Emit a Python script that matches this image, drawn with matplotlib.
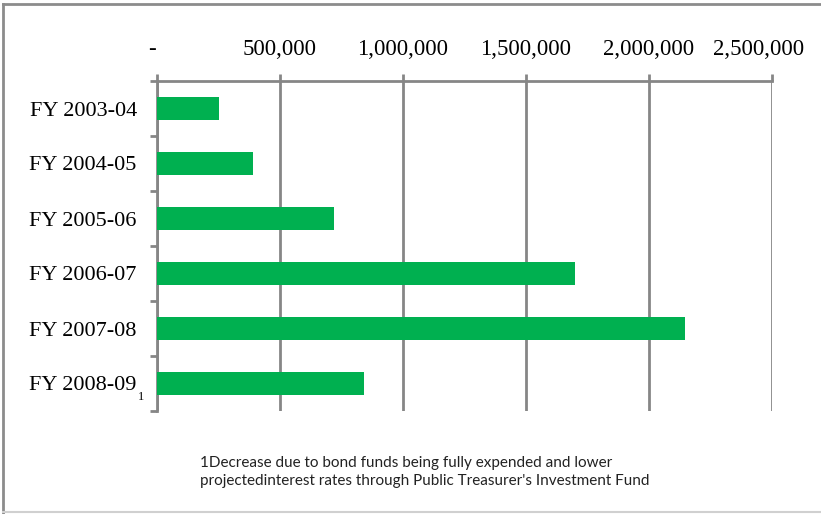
import numpy as np
import matplotlib
matplotlib.use("Agg")
import matplotlib.pyplot as plt
from matplotlib.lines import Line2D
from matplotlib.ticker import FuncFormatter, FixedLocator
from matplotlib.transforms import ScaledTranslation

years = ["FY 2003-04", "FY 2004-05", "FY 2005-06", "FY 2006-07", "FY 2007-08", "FY 2008-09"]
amounts = [252000, 390000, 720000, 1699000, 2146000, 841000]
x_ticks = [0, 500000, 1000000, 1500000, 2000000, 2500000]
note = ("1Decrease due to bond funds being fully expended and lower\n"
        "projectedinterest rates through Public Treasurer's Investment Fund")

GREEN = "#00B050"
GREY = "#868686"

W, H = 821, 514
fig = plt.figure(figsize=(W / 100, H / 100), dpi=100)
ax = fig.add_axes([157 / W, 1 - 411 / H, (772 - 157) / W, (411 - 81) / H])

y = np.arange(len(years))
ax.barh(y, amounts, height=0.42, color=GREEN, zorder=3)
ax.set_ylim(len(years) - 0.5, -0.5)
ax.set_xlim(0, 2500000)

# value axis on top, vertical gridlines
ax.xaxis.tick_top()
ax.xaxis.set_major_locator(FixedLocator(x_ticks))
ax.xaxis.set_major_formatter(FuncFormatter(lambda v, p: "-" if v == 0 else f"{int(v):,}"))
ax.tick_params(axis="x", which="major", length=5, width=2, color=GREY, pad=10,
               labelsize=16.5, labelfontfamily="Liberation Serif")
ax.grid(axis="x", color=GREY, lw=2, zorder=1)

# category labels at centres, boundary ticks as minor ticks
ax.set_yticks(y)
ax.set_yticklabels(years)
ax.set_yticks(np.arange(len(years) + 1) - 0.5, minor=True)
ax.tick_params(axis="y", which="major", length=0, pad=14.5,
               labelsize=16, labelfontfamily="Liberation Serif")
ax.tick_params(axis="y", which="minor", length=5, width=2, color=GREY)

for s in ["right", "bottom"]:
    ax.spines[s].set_visible(False)
for s in ["top", "left"]:
    ax.spines[s].set_color(GREY)
    ax.spines[s].set_linewidth(2)

# keep the end labels inside the frame
fig.canvas.draw()
labels = ax.get_xticklabels(which="major")
labels[0].set_transform(labels[0].get_transform() + ScaledTranslation(-5 / 100, 0, fig.dpi_scale_trans))
labels[-1].set_transform(labels[-1].get_transform() + ScaledTranslation(-13 / 100, 0, fig.dpi_scale_trans))

# footnote marker on the last category
fig.text(138 / W, 1 - 397 / H, "1", fontsize=9, family="Liberation Serif",
         ha="left", va="center")

fig.text(200 / W, 1 - 472 / H, note, fontsize=11, family="Lato",
         ha="left", va="center", linespacing=1.38, color="#222222")

# chart frame
fig.add_artist(Line2D([3 / W, 3 / W], [0.5 / H, 1 - 4 / H], transform=fig.transFigure,
                      color="#8c8c8c", lw=2))
fig.add_artist(Line2D([3 / W, 1], [1 - 4 / H, 1 - 4 / H], transform=fig.transFigure,
                      color="#8c8c8c", lw=2))
fig.add_artist(Line2D([3 / W, 1], [2 / H, 2 / H], transform=fig.transFigure,
                      color="#d0d0d0", lw=1.5))

fig.savefig("out.png", dpi=100)
